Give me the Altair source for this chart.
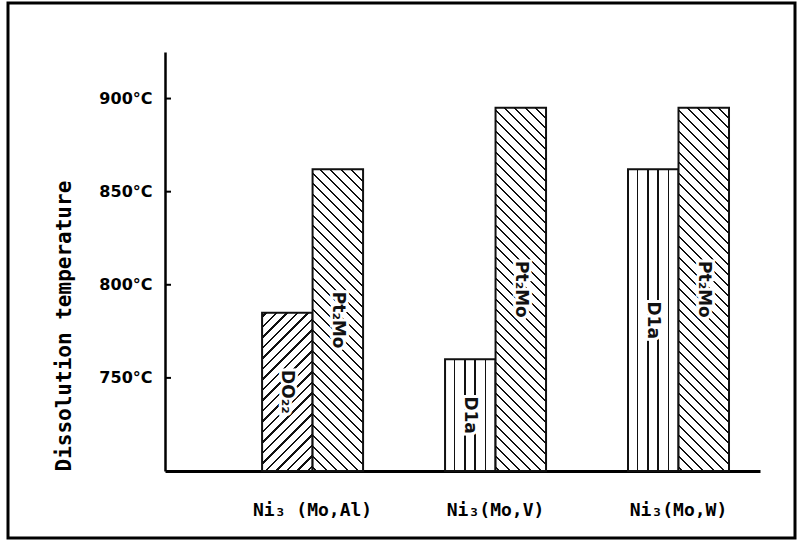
import altair as alt
import pandas as pd

# ---------------- data ----------------
groups = ["Ni₃ (Mo,Al)", "Ni₃(Mo,V)", "Ni₃(Mo,W)"]
bar_group = ["Ni₃ (Mo,Al)", "Ni₃ (Mo,Al)", "Ni₃(Mo,V)", "Ni₃(Mo,V)", "Ni₃(Mo,W)", "Ni₃(Mo,W)"]
bar_slot = ["a", "b", "a", "b", "a", "b"]
phases = ["DO₂₂", "Pt₂Mo", "D1a", "Pt₂Mo", "D1a", "Pt₂Mo"]
temps = [785, 862, 760, 895, 862, 895]
y_ticks = [750, 800, 850, 900]
y_min, y_max = 700, 925

df = pd.DataFrame({"group": bar_group, "slot": bar_slot, "phase": phases, "temp": temps})
df["idx"] = range(len(df))
df_ticks = pd.DataFrame({"temp": y_ticks})

# ---------------- layout ----------------
W, H = 595, 419
PAD = {"left": 165, "top": 52, "right": 41, "bottom": 70}
P_IN, P_OUT, ALIGN = 0.448, 0.35, 0.758
step = W / (len(groups) - P_IN + 2 * P_OUT)
bar_w = step * (1 - P_IN) / 2

hatch_of = {"DO₂₂": "fwd", "Pt₂Mo": "back", "D1a": "vert"}


def stripe_stops(length, period, thick, phase):
    out = [{"offset": 0, "color": "white"}]
    s = phase
    while s < length:
        a = round(max(s, 0) / length, 5)
        b = round(min(s + thick, length) / length, 5)
        if b > a:
            out += [{"offset": a, "color": "white"}, {"offset": a, "color": "#111"},
                    {"offset": b, "color": "#111"}, {"offset": b, "color": "white"}]
        s += period
    out.append({"offset": 1, "color": "white"})
    return out


def hatch(kind, w, h):
    if kind == "vert":
        return {"gradient": "linear", "x1": 0, "y1": 0, "x2": 1, "y2": 0,
                "stops": stripe_stops(w, 10.4, 1.6, 8.5)}
    k = (w + h) / (w * w + h * h)
    if kind == "fwd":
        return {"gradient": "linear", "x1": 0, "y1": 0, "x2": k * w, "y2": k * h,
                "stops": stripe_stops(w + h, 10.5, 2.3, 3)}
    return {"gradient": "linear", "x1": 0, "y1": 1, "x2": k * w, "y2": 1 - k * h,
            "stops": stripe_stops(w + h, 10.5, 2.3, 3)}


conds = []
for i, (p, t) in enumerate(zip(phases, temps)):
    h = (t - y_min) / (y_max - y_min) * H
    conds.append({"test": f"datum.idx === {i}", "value": hatch(hatch_of[p], bar_w, h)})
fill_enc = {"condition": conds[:-1], "value": conds[-1]["value"]}

x_scale = alt.Scale(paddingInner=P_IN, paddingOuter=P_OUT, align=ALIGN)
y_scale = alt.Scale(domain=[y_min, y_max], zero=False, nice=False)

x_axis = alt.Axis(title=None, ticks=False, labelPadding=30, labelFont="DejaVu Sans Mono",
                  labelFontSize=18, labelFontWeight="bold", labelColor="black",
                  labelAngle=0, domainColor="black", domainWidth=3, grid=False)
y_axis = alt.Axis(values=y_ticks, labelExpr="datum.value + '°C'", ticks=False,
                  labelPadding=13, labelFont="DejaVu Sans", labelFontSize=16,
                  labelFontWeight="bold", labelColor="black", domainColor="black",
                  domainWidth=2.5, grid=False, title="Dissolution temperature",
                  titleFont="DejaVu Sans Mono", titleFontSize=21,
                  titleFontWeight="bold", titleColor="black", titleAnchor="start",
                  titleX=-101, titleBaseline="middle", titleAngle=270)

x_enc = alt.X("group:N", sort=groups, scale=x_scale, axis=x_axis)
xoff_enc = alt.XOffset("slot:N", sort=["a", "b"])

bars = alt.Chart(df).mark_bar(stroke="#111", strokeWidth=2).encode(
    x=x_enc,
    xOffset=xoff_enc,
    y=alt.Y("temp:Q", scale=y_scale, axis=y_axis),
    y2=alt.Y2(datum=y_min),
    fill=fill_enc,
)

label_base = alt.Chart(df).transform_calculate(
    mid=f"(datum.temp + {y_min}) / 2"
).encode(
    x=x_enc,
    xOffset=xoff_enc,
    y=alt.Y("mid:Q", scale=y_scale, axis=y_axis),
    text="phase:N",
)
halo = label_base.mark_text(angle=90, font="DejaVu Sans", fontSize=17, fontWeight="bold",
                            fill="white", stroke="white", strokeWidth=6)
labels = label_base.mark_text(angle=90, font="DejaVu Sans", fontSize=17, fontWeight="bold",
                              fill="#111")

tick_marks = alt.Chart(df_ticks).mark_rule(color="black", strokeWidth=2).encode(
    y=alt.Y("temp:Q", scale=y_scale, axis=y_axis),
    x=alt.value(0),
    x2=alt.value(6),
)

frame = alt.Chart(pd.DataFrame({"k": [0]})).mark_rect(
    fillOpacity=0, stroke="black", strokeWidth=3
).encode(
    x=alt.value(-157), x2=alt.value(630), y=alt.value(-49), y2=alt.value(486)
)

chart = alt.layer(bars, halo, labels, tick_marks, frame).properties(
    width=W, height=H, padding=PAD,
    autosize=alt.AutoSizeParams(type="none"),
    background="white",
).configure_view(stroke=None)

chart.save("out.html", embed_options={"renderer": "svg", "actions": False})
